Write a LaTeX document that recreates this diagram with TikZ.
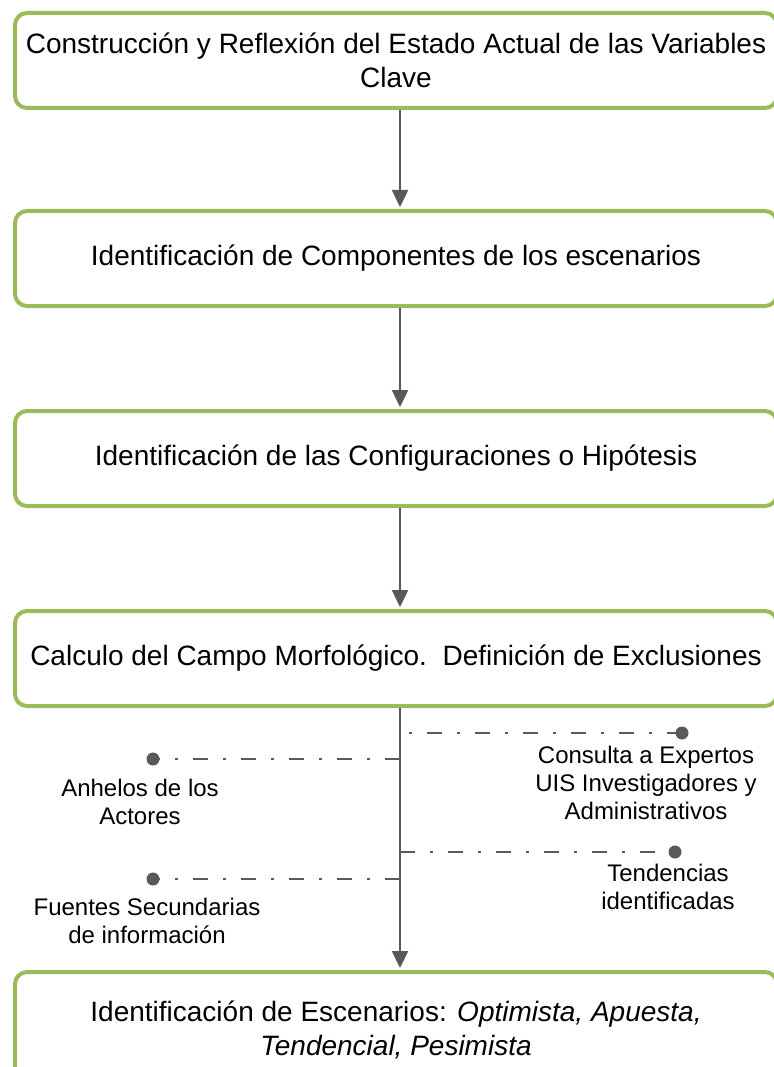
\documentclass[tikz,border=0pt]{standalone}
\usepackage{fontspec}
\setmainfont{Liberation Sans}
\usetikzlibrary{arrows.meta}
\definecolor{boxgreen}{HTML}{9BBB59}
\definecolor{linegray}{HTML}{595959}
\tikzset{
  stepbox/.style={draw=boxgreen, line width=4pt, rounded corners=12pt, rectangle,
    minimum width=762pt, minimum height=95pt, align=center, inner sep=0pt,
    font=\fontsize{28}{34}\selectfont},
  flowarrow/.style={draw=linegray, line width=2.5pt, -{Triangle[length=17pt,width=16pt]}, shorten >=2pt},
  dashline/.style={draw=linegray, line width=2.2pt, dash pattern=on 15pt off 15pt on 3pt off 15pt},
  enddot/.style={circle, fill=linegray, minimum size=13pt, inner sep=0pt},
  sidelabel/.style={align=center, inner sep=0pt, font=\fontsize{24}{28}\selectfont}
}
\begin{document}
\begin{tikzpicture}[x=1pt,y=-1pt]
\useasboundingbox (0,0) rectangle (773,1067);
\node[stepbox] (b1) at (396,60.5) {Construcción y Reflexión del Estado Actual de las Variables\\Clave};
\node[stepbox] (b2) at (396,258.5) {Identificación de Componentes de los escenarios};
\node[stepbox] (b3) at (396,458.5) {Identificación de las Configuraciones o Hipótesis};
\node[stepbox] (b4) at (396,658.5) {Calculo del Campo Morfológico.\ \ Definición de Exclusiones};
\node[stepbox, minimum height=115pt] (b5) at (396,1029.5) {Identificación de Escenarios: \textit{Optimista, Apuesta,}\\\textit{Tendencial, Pesimista}};
\coordinate (spine) at (400,0);
\draw[flowarrow] (b1.south -| spine) -- (b2.north -| spine);
\draw[flowarrow] (b2.south -| spine) -- (b3.north -| spine);
\draw[flowarrow] (b3.south -| spine) -- (b4.north -| spine);
\draw[flowarrow] (b4.south -| spine) -- (b5.north -| spine);
% dots
\node[enddot] (d1) at (682,733) {};
\node[enddot] (d2) at (153,759) {};
\node[enddot] (d3) at (675,852) {};
\node[enddot] (d4) at (153,879) {};
\coordinate (s1) at (d1 -| spine);
\coordinate (s2) at (d2 -| spine);
\coordinate (s3) at (d3 -| spine);
\coordinate (s4) at (d4 -| spine);
\draw[dashline] (d1.center) -- ([xshift=5pt]s1);
\draw[dashline] (s2) -- (d2.center);
\draw[dashline] (s3) -- (d3.center);
\draw[dashline] (s4) -- (d4.center);
% labels
\node[sidelabel] (l1) at (646,783) {Consulta a Expertos\\UIS Investigadores y\\Administrativos};
\node[sidelabel] (l2) at (140,802) {Anhelos de los\\Actores};
\node[sidelabel] (l3) at (668,887) {Tendencias\\identificadas};
\node[sidelabel] (l4) at (147,921) {Fuentes Secundarias\\de información};
\end{tikzpicture}
\end{document}
